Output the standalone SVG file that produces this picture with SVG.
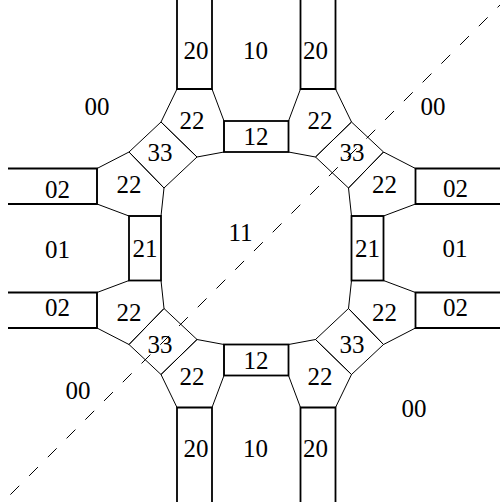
<svg xmlns="http://www.w3.org/2000/svg" width="500" height="502" viewBox="0 0 500 502">
<style>
text{font-family:"Liberation Serif","Times New Roman",serif;font-size:25px;text-anchor:middle;fill:#000}
.thin{fill:none;stroke:#000;stroke-width:1;stroke-linejoin:miter}
.thick{fill:none;stroke:#000;stroke-width:1.8;stroke-linejoin:miter}
.dash{fill:none;stroke:#000;stroke-width:1;stroke-dasharray:12.5 14}
</style>
<rect width="500" height="502" fill="#fff"/>
<!-- regions without outline -->
<g id="r00-tl"><text x="97" y="114.5">00</text></g>
<g id="r00-tr"><text x="433" y="114.5">00</text></g>
<g id="r00-bl"><text x="78" y="398.5">00</text></g>
<g id="r00-br"><text x="414" y="416.5">00</text></g>
<g id="r10-t"><text x="255.5" y="58.5">10</text></g>
<g id="r10-b"><text x="255.5" y="457">10</text></g>
<g id="r01-l"><text x="57.5" y="257.5">01</text></g>
<g id="r01-r"><text x="455" y="256.5">01</text></g>
<g id="r11"><text x="240.5" y="241">11</text></g>
<!-- pentagons 22 -->
<g id="p22-tl-u"><polygon class="thin" points="177,89 212,89 224,121 224,152 197,157 161,122"/><text x="192" y="128.5">22</text></g>
<g id="p22-tl-l"><polygon class="thin" points="97,168.5 129,152 164,188 161,216 129,216 97,204"/><text x="129" y="192.5">22</text></g>
<g id="p22-tr-u"><polygon class="thin" points="335.5,89 300.5,89 288.5,121 288.5,152 315.5,157 351.5,122"/><text x="320" y="128.5">22</text></g>
<g id="p22-tr-l"><polygon class="thin" points="415.5,168.5 383.5,152 348.5,188 351.5,216 383.5,216 415.5,204"/><text x="384.5" y="193">22</text></g>
<g id="p22-bl-u"><polygon class="thin" points="97,328 129,344.5 164,308.5 161,280.5 129,280.5 97,292.5"/><text x="129" y="320.5">22</text></g>
<g id="p22-bl-l"><polygon class="thin" points="177,407.5 212,407.5 224,375.5 224,344.5 197,339.5 161,374.5"/><text x="192" y="384.5">22</text></g>
<g id="p22-br-u"><polygon class="thin" points="415.5,328 383.5,344.5 348.5,308.5 351.5,280.5 383.5,280.5 415.5,292.5"/><text x="384.5" y="320.5">22</text></g>
<g id="p22-br-l"><polygon class="thin" points="335.5,407.5 300.5,407.5 288.5,375.5 288.5,344.5 315.5,339.5 351.5,374.5"/><text x="320" y="384.5">22</text></g>
<!-- diamonds 33 -->
<g id="d33-tl"><polygon class="thin" points="161,122 197,157 164,188 129,152"/><text x="160" y="160.5">33</text></g>
<g id="d33-tr"><polygon class="thin" points="351.5,122 383.5,152 348.5,188 315.5,157"/><text x="352" y="161">33</text></g>
<g id="d33-bl"><polygon class="thin" points="164,308.5 197,339.5 161,374.5 129,344.5"/><text x="160" y="353">33</text></g>
<g id="d33-br"><polygon class="thin" points="348.5,308.5 383.5,344.5 351.5,374.5 315.5,339.5"/><text x="352" y="353">33</text></g>
<!-- boxes -->
<g id="b12-t"><rect class="thick" x="224" y="121" width="64.5" height="31"/><text x="256" y="144.5">12</text></g>
<g id="b12-b"><rect class="thick" x="224" y="344.5" width="64.5" height="31"/><text x="256" y="368.5">12</text></g>
<g id="b21-l"><rect class="thick" x="129" y="216" width="32" height="64.5"/><text x="145" y="257">21</text></g>
<g id="b21-r"><rect class="thick" x="351.5" y="216" width="32" height="64.5"/><text x="367.5" y="257">21</text></g>
<!-- lanes -->
<g id="l20-tl"><polyline class="thick" points="177,0 177,89 212,89 212,0"/><text x="196" y="58.5">20</text></g>
<g id="l20-tr"><polyline class="thick" points="300.5,0 300.5,89 335.5,89 335.5,0"/><text x="315.5" y="58.5">20</text></g>
<g id="l20-bl"><polyline class="thick" points="177,502 177,407.5 212,407.5 212,502"/><text x="196" y="457">20</text></g>
<g id="l20-br"><polyline class="thick" points="300.5,502 300.5,407.5 335.5,407.5 335.5,502"/><text x="315.5" y="457">20</text></g>
<g id="l02-lu"><polyline class="thick" points="8,168.5 97,168.5 97,204 8,204"/><text x="57.5" y="198">02</text></g>
<g id="l02-ll"><polyline class="thick" points="8,292.5 97,292.5 97,328 8,328"/><text x="57.5" y="316">02</text></g>
<g id="l02-ru"><polyline class="thick" points="500,168.5 415.5,168.5 415.5,204 500,204"/><text x="455.5" y="196.5">02</text></g>
<g id="l02-rl"><polyline class="thick" points="500,292.5 415.5,292.5 415.5,328 500,328"/><text x="455.5" y="316">02</text></g>
<!-- connectors / guide -->
<g id="connectors"><line class="dash" x1="506.4" y1="-1.4" x2="5" y2="500"/></g>
</svg>
